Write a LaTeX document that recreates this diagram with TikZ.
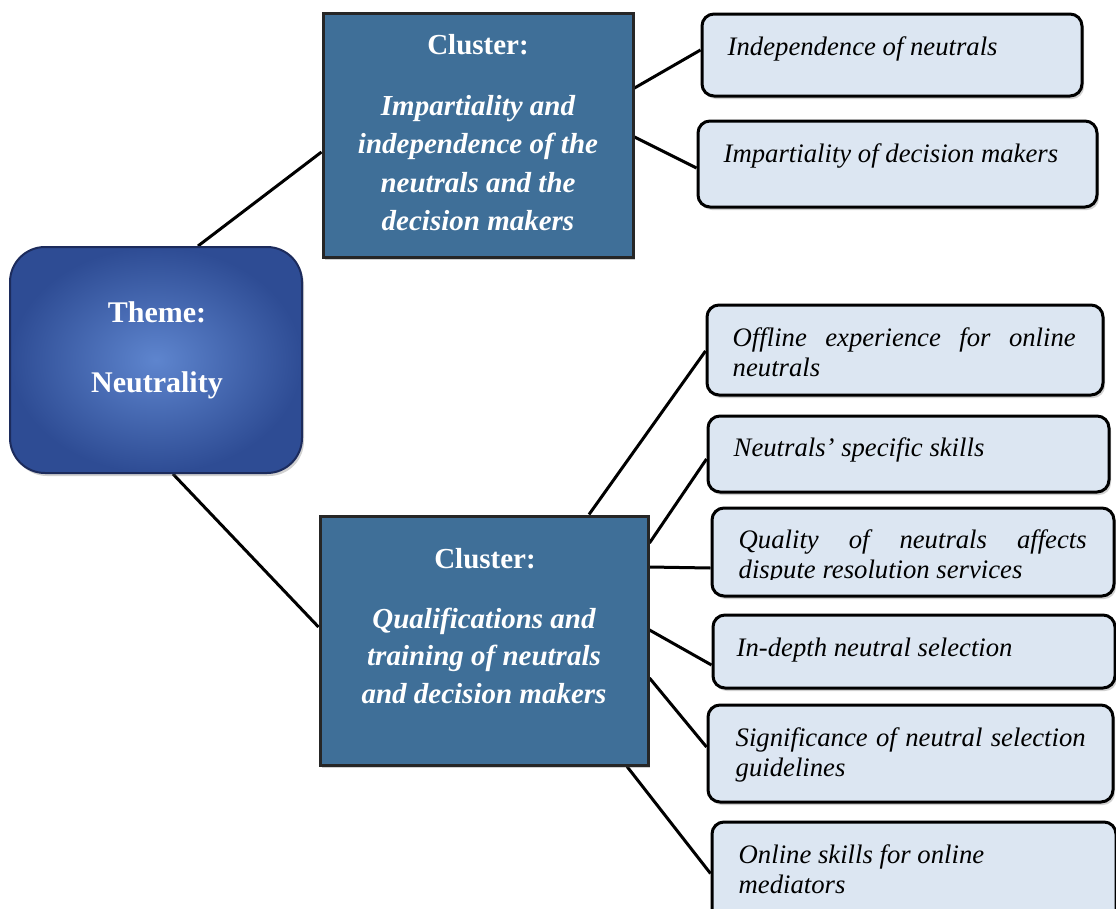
\documentclass[tikz,border=0pt]{standalone}
\usepackage{fontspec}
\setmainfont{Liberation Serif}
\usetikzlibrary{shadows,backgrounds}
\definecolor{themein}{HTML}{5E85CE}
\definecolor{themeout}{HTML}{2E4C94}
\definecolor{themeborder}{HTML}{1C2B5C}
\definecolor{clusterfill}{HTML}{3F6F98}
\definecolor{leaffill}{HTML}{DCE6F2}
\begin{document}
\begin{tikzpicture}[x=1pt,y=-1pt,
  softshadow/.style={drop shadow={opacity=0.3,shadow xshift=2pt,shadow yshift=-3pt,fill=black!60}},
  themebox/.style={draw=themeborder,line width=2pt,rounded corners=35pt,
    inner color=themein,outer color=themeout,softshadow,inner sep=0pt},
  clusterbox/.style={draw=black!85,line width=3pt,fill=clusterfill,softshadow,inner sep=0pt},
  leafbox/.style={draw=black,line width=3pt,fill=leaffill,rounded corners=12pt,softshadow,inner sep=0pt},
  themetext/.style={font=\fontsize{30}{36}\selectfont\bfseries,text=white,anchor=base,inner sep=0pt},
  clusterhead/.style={font=\fontsize{29}{36}\selectfont\bfseries,text=white,anchor=base,inner sep=0pt},
  clustertext/.style={font=\fontsize{29}{36}\selectfont\bfseries\itshape,text=white,anchor=base,inner sep=0pt},
  leaftext/.style={font=\fontsize{26.7}{30}\selectfont\itshape,text=black,anchor=base west,inner sep=0pt},
  link/.style={line width=3pt,black}]
\useasboundingbox (0,0) rectangle (1116,908);
\clip (0,0) rectangle (1116,908);

% boxes
\node[themebox,minimum width=292pt,minimum height=226pt] (theme) at (156,360) {};
\node[clusterbox,minimum width=310pt,minimum height=244pt] (c1) at (478,135) {};
\node[clusterbox,minimum width=328pt,minimum height=249pt] (c2) at (484,640.5) {};
\node[leafbox,minimum width=380pt,minimum height=82pt] (l1) at (892,55) {};
\node[leafbox,minimum width=399pt,minimum height=86pt] (l2) at (897.5,164) {};
\node[leafbox,minimum width=396pt,minimum height=90pt] (l3) at (905,350) {};
\node[leafbox,minimum width=401pt,minimum height=76pt] (l4) at (908.5,454) {};
\node[leafbox,minimum width=402pt,minimum height=88pt] (l5) at (913,552) {};
\node[leafbox,minimum width=402pt,minimum height=73pt] (l6) at (914,651.5) {};
\node[leafbox,minimum width=405pt,minimum height=97pt] (l7) at (910.5,753.5) {};
\node[leafbox,minimum width=404pt,minimum height=106pt] (l8) at (914,875) {};

% connectors
\begin{scope}[on background layer]
\draw[link] ([xshift=42pt]theme.north) -- ([yshift=-17pt]c1.west);
\draw[link] ([xshift=17pt]theme.south) -- ([yshift=13.5pt]c2.west);
\draw[link] ([yshift=47pt]c1.east) -- ([yshift=5pt]l1.west);
\draw[link] ([yshift=-2pt]c1.east) -- ([yshift=-4pt]l2.west);
\draw[link] ([xshift=105pt]c2.north) -- ([yshift=-1pt]l3.west);
\draw[link] ([yshift=97.5pt]c2.east) -- ([yshift=-5pt]l4.west);
\draw[link] ([yshift=73.5pt]c2.east) -- ([yshift=-16pt]l5.west);
\draw[link] ([yshift=10.5pt]c2.east) -- ([yshift=-13.5pt]l6.west);
\draw[link] ([yshift=-37.5pt]c2.east) -- ([yshift=6.5pt]l7.west);
\draw[link] ([xshift=143pt]c2.south) -- ([yshift=1.5pt]l8.west);
\end{scope}

% theme text
\node[themetext] (th1) at (157,322) {Theme:};
\node[themetext] (th2) at (157,392) {Neutrality};

% cluster 1 text
\node[clusterhead] (c1h) at (478,54) {Cluster:};
\node[clustertext] (c1a) at (478,115) {Impartiality and};
\node[clustertext] (c1b) at (478,153) {independence of the};
\node[clustertext] (c1c) at (478,192) {neutrals and the};
\node[clustertext] (c1d) at (478,230) {decision makers};

% cluster 2 text
\node[clusterhead] (c2h) at (485,568) {Cluster:};
\node[clustertext] (c2a) at (484,628) {Qualifications and};
\node[clustertext] (c2b) at (484,665) {training of neutrals};
\node[clustertext] (c2c) at (484,703) {and decision makers};

% leaf text
\node[leaftext] (t1) at ([xshift=27pt,yshift=-43pt]l1.north west) {Independence of neutrals};
\node[leaftext] (t2) at ([xshift=27pt,yshift=-43pt]l2.north west) {Impartiality of decision makers};
\node[leaftext] (t3a) at ([xshift=27pt,yshift=-43pt]l3.north west) {\makebox[343pt][s]{Offline experience for online}};
\node[leaftext] (t3b) at ([xshift=27pt,yshift=-73pt]l3.north west) {neutrals};
\node[leaftext] (t4) at ([xshift=27pt,yshift=-42pt]l4.north west) {Neutrals’ specific skills};
\begin{scope}
\clip ([yshift=-73pt]l5.north west) rectangle (l5.north east);
\node[leaftext] (t5a) at ([xshift=28pt,yshift=-42pt]l5.north west) {\makebox[348pt][s]{Quality of neutrals affects}};
\node[leaftext] (t5b) at ([xshift=28pt,yshift=-72pt]l5.north west) {dispute resolution services};
\end{scope}
\node[leaftext] (t6) at ([xshift=25pt,yshift=-43pt]l6.north west) {In-depth neutral selection};
\node[leaftext] (t7a) at ([xshift=29pt,yshift=-43pt]l7.north west) {\makebox[350pt][s]{Significance of neutral selection}};
\node[leaftext] (t7b) at ([xshift=29pt,yshift=-73pt]l7.north west) {guidelines};
\node[leaftext] (t8a) at ([xshift=28pt,yshift=-43pt]l8.north west) {Online skills for online};
\node[leaftext] (t8b) at ([xshift=28pt,yshift=-73pt]l8.north west) {mediators};
\end{tikzpicture}
\end{document}
